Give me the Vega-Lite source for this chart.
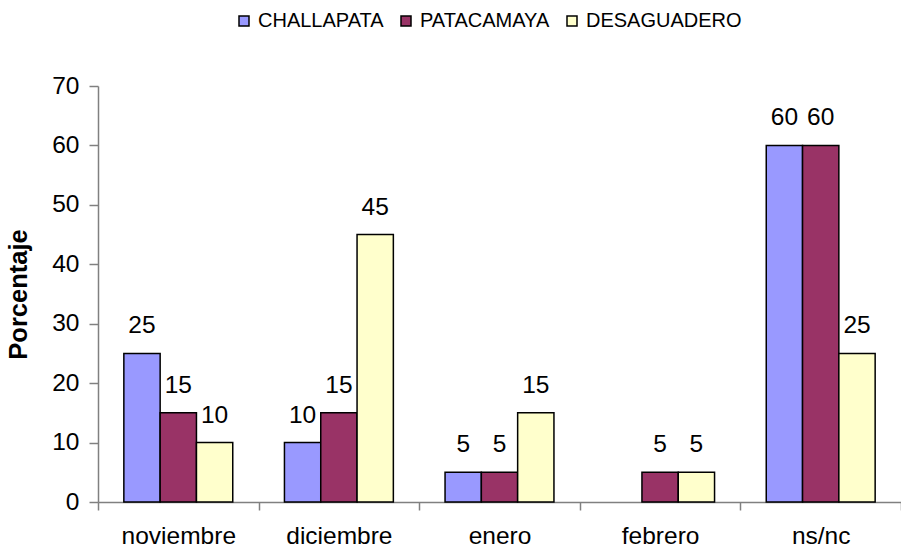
{
  "$schema": "https://vega.github.io/schema/vega-lite/v6.json",
  "autosize": "none",
  "width": 803,
  "height": 416,
  "padding": {"left": 98, "top": 86, "right": 0, "bottom": 46},
  "background": "white",
  "config": {
    "font": "Liberation Sans",
    "view": {"stroke": null}
  },
  "data": {
    "values": [
      {"mes": "noviembre", "lugar": "CHALLAPATA", "value": 25},
      {"mes": "noviembre", "lugar": "PATACAMAYA", "value": 15},
      {"mes": "noviembre", "lugar": "DESAGUADERO", "value": 10},
      {"mes": "diciembre", "lugar": "CHALLAPATA", "value": 10},
      {"mes": "diciembre", "lugar": "PATACAMAYA", "value": 15},
      {"mes": "diciembre", "lugar": "DESAGUADERO", "value": 45},
      {"mes": "enero", "lugar": "CHALLAPATA", "value": 5},
      {"mes": "enero", "lugar": "PATACAMAYA", "value": 5},
      {"mes": "enero", "lugar": "DESAGUADERO", "value": 15},
      {"mes": "febrero", "lugar": "CHALLAPATA", "value": 0},
      {"mes": "febrero", "lugar": "PATACAMAYA", "value": 5},
      {"mes": "febrero", "lugar": "DESAGUADERO", "value": 5},
      {"mes": "ns/nc", "lugar": "CHALLAPATA", "value": 60},
      {"mes": "ns/nc", "lugar": "PATACAMAYA", "value": 60},
      {"mes": "ns/nc", "lugar": "DESAGUADERO", "value": 25}
    ]
  },
  "transform": [{"filter": "datum.value > 0"}],
  "encoding": {
    "x": {
      "field": "mes",
      "type": "nominal",
      "sort": ["noviembre", "diciembre", "enero", "febrero", "ns/nc"],
      "scale": {"paddingInner": 0, "paddingOuter": 0},
      "axis": {
        "title": null,
        "labelAngle": 0,
        "labelFontSize": 24.5,
        "labelColor": "black",
        "labelPadding": 14,
        "tickBand": "extent",
        "tickSize": 8,
        "tickColor": "#808080",
        "domainColor": "#808080",
        "domainWidth": 1.5,
        "tickWidth": 1.5
      }
    },
    "xOffset": {
      "field": "lugar",
      "type": "nominal",
      "sort": ["CHALLAPATA", "PATACAMAYA", "DESAGUADERO"],
      "scale": {"paddingInner": 0, "paddingOuter": 0.712}
    },
    "y": {
      "field": "value",
      "type": "quantitative",
      "scale": {"domain": [0, 70], "nice": false},
      "axis": {
        "title": "Porcentaje",
        "titleFontSize": 25.5,
        "titleFontWeight": "bold",
        "titleColor": "black",
        "titlePadding": 20,
        "values": [0, 10, 20, 30, 40, 50, 60, 70],
        "grid": false,
        "labelFontSize": 24.5,
        "labelColor": "black",
        "labelPadding": 10,
        "tickSize": 9,
        "tickColor": "#808080",
        "domainColor": "#808080",
        "domainWidth": 1.5,
        "tickWidth": 1.5
      }
    }
  },
  "layer": [
    {
      "mark": {"type": "bar", "stroke": "black", "strokeWidth": 1.5},
      "encoding": {
        "color": {
          "field": "lugar",
          "type": "nominal",
          "scale": {
            "domain": ["CHALLAPATA", "PATACAMAYA", "DESAGUADERO"],
            "range": ["#9999FF", "#993366", "#FFFFCC"]
          },
          "legend": {
            "title": null,
            "orient": "none",
            "direction": "horizontal",
            "legendX": 136,
            "legendY": -75,
            "symbolType": "square",
            "symbolSize": 100,
            "symbolStrokeColor": "black",
            "symbolStrokeWidth": 1.5,
            "symbolOpacity": 1,
            "labelFontSize": 20,
            "labelColor": "black",
            "labelOffset": 4,
            "columnPadding": 12
          }
        }
      }
    },
    {
      "mark": {"type": "text", "fontSize": 24.5, "color": "black", "baseline": "alphabetic", "dy": -20},
      "encoding": {
        "text": {"field": "value", "type": "quantitative"}
      }
    }
  ]
}
